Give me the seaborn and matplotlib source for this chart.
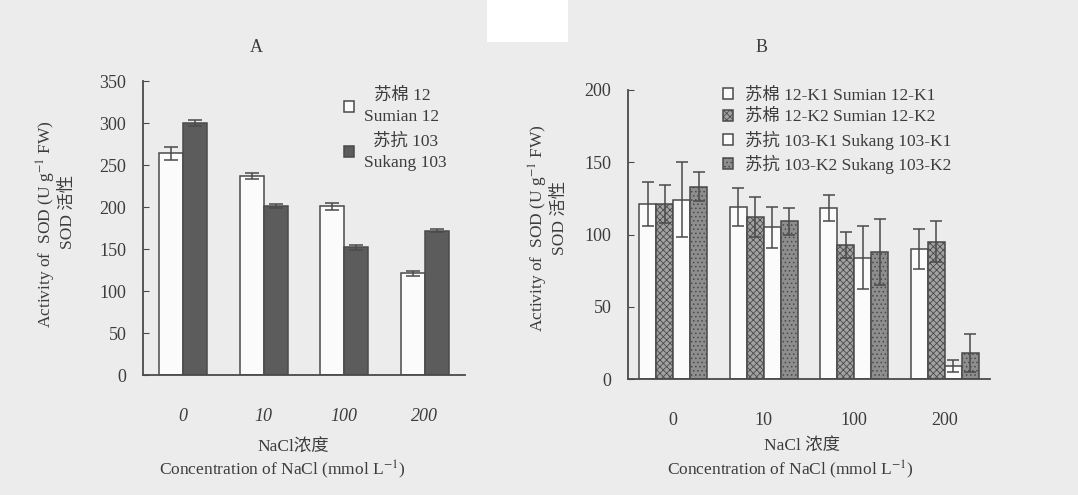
import pandas as pd
import matplotlib.pyplot as plt
import seaborn as sns
from matplotlib.patches import Patch, Rectangle

plt.switch_backend('Agg')

# ---- data ----
conc_labels = ['0', '10', '100', '200']

# panel A
a_groups = ['苏棉 12\nSumian 12', '苏抗 103\nSukang 103']
a_sumian12 = [264, 237, 201, 121]
a_sumian12_err = [8, 4, 4, 3]
a_sukang103 = [300, 201, 152, 172]
a_sukang103_err = [3, 2, 3, 2]

# panel B
b_groups = ['苏棉 12-K1 Sumian 12-K1', '苏棉 12-K2 Sumian 12-K2',
            '苏抗 103-K1 Sukang 103-K1', '苏抗 103-K2 Sukang 103-K2']
b_s12k1 = [121, 119, 118, 90]
b_s12k1_err = [15, 13, 9, 14]
b_s12k2 = [121, 112, 93, 95]
b_s12k2_err = [13, 14, 9, 14]
b_s103k1 = [124, 105, 84, 9]
b_s103k1_err = [26, 14, 22, 4]
b_s103k2 = [133, 109, 88, 18]
b_s103k2_err = [10, 9, 23, 13]

sns.set_style('ticks')
plt.rcParams['font.family'] = ['Liberation Serif', 'Noto Sans CJK SC']
plt.rcParams['mathtext.fontset'] = 'stix'
plt.rcParams['hatch.linewidth'] = 0.6

TXT = '#3c3c3c'
LINE = '#4a4a4a'
BG = '#ececec'
W, H = 1078, 495


def fx(x):
    return x / W


def fy(y):
    return 1 - y / H


def long_frame(groups, series):
    rows = []
    for g, vals in zip(groups, series):
        for c, v in zip(conc_labels, vals):
            rows.append({'conc': c, 'group': g, 'sod': v})
    return pd.DataFrame(rows)


def style_axis(ax, ymax, step):
    ax.set_facecolor(BG)
    sns.despine(ax=ax)
    for s in ['left', 'bottom']:
        ax.spines[s].set_color(LINE)
        ax.spines[s].set_linewidth(1.3)
    ax.set_ylim(0, ymax)
    ax.set_xlim(-0.5, 3.5)
    ax.set_yticks(range(0, ymax + 1, step))
    ax.tick_params(axis='y', direction='in', length=4, color=LINE,
                   labelsize=13, labelcolor=TXT, pad=12)
    ax.tick_params(axis='x', length=0, labelsize=13, labelcolor=TXT, pad=24)
    ax.set_xlabel('')
    ax.set_ylabel('')


def add_errors(ax, errs, capsize):
    for cont, err in zip(ax.containers, errs):
        xs = [p.get_x() + p.get_width() / 2 for p in cont.patches]
        ys = [p.get_height() for p in cont.patches]
        ax.errorbar(xs, ys, yerr=err, fmt='none', ecolor=LINE,
                    elinewidth=1.1, capsize=capsize, capthick=1.1, zorder=5)


fig = plt.figure(figsize=(W / 100, H / 100), dpi=100)
fig.patch.set_facecolor(BG)
fig.patches.append(Rectangle((fx(487), fy(42)), fx(568) - fx(487), 42 / H,
                             transform=fig.transFigure, facecolor='white',
                             edgecolor='none', zorder=0))

# ---------------- panel A ----------------
axA = fig.add_axes([fx(143), fy(375), fx(465) - fx(143), (375 - 81) / H])
dfA = long_frame(a_groups, [a_sumian12, a_sukang103])
sns.barplot(data=dfA, x='conc', y='sod', hue='group', order=conc_labels,
            hue_order=a_groups, palette=['#fbfbfb', '#5c5c5c'], width=0.6,
            errorbar=None, edgecolor=LINE, linewidth=1.1, ax=axA, legend=False)
add_errors(axA, [a_sumian12_err, a_sukang103_err], 5)
style_axis(axA, 350, 50)
for t in axA.get_xticklabels():
    t.set_fontstyle('italic')

hA = [Patch(facecolor='#fbfbfb', edgecolor=LINE, linewidth=1.1),
      Patch(facecolor='#5c5c5c', edgecolor=LINE, linewidth=1.1)]
legA = axA.legend(hA, a_groups, loc='upper left', frameon=False,
                  bbox_to_anchor=(fx(328), fy(72)), bbox_transform=fig.transFigure,
                  fontsize=12.5, handlelength=0.6, handleheight=0.6,
                  handletextpad=0.6, labelspacing=0.45, labelcolor=TXT)
for t in legA.get_texts():
    t.set_multialignment('center')
    t.set_linespacing(1.45)

fig.text(fx(256), fy(48), 'A', ha='center', va='center', fontsize=13, color=TXT)
fig.text(fx(46), fy(224), 'Activity of  SOD (U g$^{-1}$ FW)', rotation=90,
         ha='center', va='center', fontsize=12.5, color=TXT)
fig.text(fx(68), fy(212), 'SOD 活性', rotation=90, ha='center', va='center',
         fontsize=12.5, color=TXT)
fig.text(fx(293), fy(448), 'NaCl浓度', ha='center', va='center',
         fontsize=12.5, color=TXT)
fig.text(fx(282), fy(470), 'Concentration of NaCl (mmol L$^{-1}$)', ha='center',
         va='center', fontsize=12.5, color=TXT)

# ---------------- panel B ----------------
axB = fig.add_axes([fx(628), fy(379), fx(990) - fx(628), (379 - 90) / H])
dfB = long_frame(b_groups, [b_s12k1, b_s12k2, b_s103k1, b_s103k2])
b_faces = ['#fbfbfb', '#a2a2a2', '#fbfbfb', '#8e8e8e']
b_hatch = ['', 'xxxxx', '', '....']
sns.barplot(data=dfB, x='conc', y='sod', hue='group', order=conc_labels,
            hue_order=b_groups, palette=b_faces, width=0.75, errorbar=None,
            edgecolor=LINE, linewidth=1.1, ax=axB, legend=False)
for cont, hatch in zip(axB.containers, b_hatch):
    for p in cont.patches:
        p.set_hatch(hatch)
add_errors(axB, [b_s12k1_err, b_s12k2_err, b_s103k1_err, b_s103k2_err], 4.5)
style_axis(axB, 200, 50)

hB = [Patch(facecolor=f, edgecolor=LINE, hatch=h, linewidth=1.1)
      for f, h in zip(b_faces, b_hatch)]
axB.legend(hB, b_groups, loc='upper left', frameon=False,
           bbox_to_anchor=(fx(707), fy(72)), bbox_transform=fig.transFigure,
           fontsize=12.5, handlelength=0.6, handleheight=0.6,
           handletextpad=0.7, labelspacing=0.3, labelcolor=TXT)

fig.text(fx(762), fy(48), 'B', ha='center', va='center', fontsize=13, color=TXT)
fig.text(fx(538), fy(228), 'Activity of  SOD (U g$^{-1}$ FW)', rotation=90,
         ha='center', va='center', fontsize=12.5, color=TXT)
fig.text(fx(560), fy(218), 'SOD 活性', rotation=90, ha='center', va='center',
         fontsize=12.5, color=TXT)
fig.text(fx(802), fy(447), 'NaCl 浓度', ha='center', va='center',
         fontsize=12.5, color=TXT)
fig.text(fx(790), fy(470), 'Concentration of NaCl (mmol L$^{-1}$)', ha='center',
         va='center', fontsize=12.5, color=TXT)

fig.savefig('out.png', dpi=100, facecolor=BG)
plt.close(fig)
